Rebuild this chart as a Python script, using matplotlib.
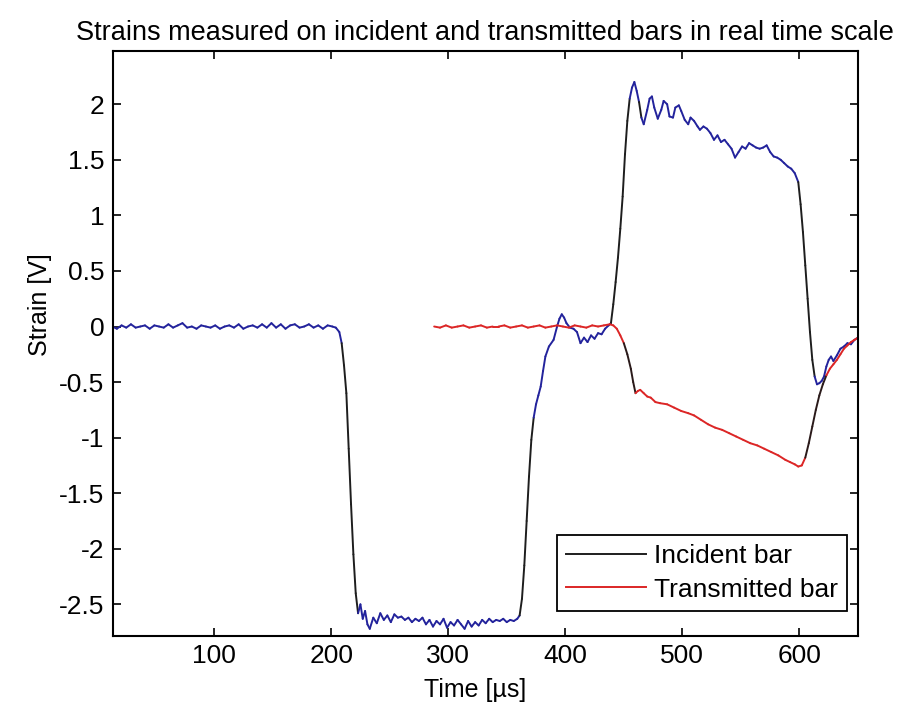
import matplotlib
matplotlib.use('Agg')
import matplotlib.pyplot as plt
from matplotlib.collections import LineCollection
from matplotlib.lines import Line2D
import numpy as np

plt.rcParams['font.family'] = ['Liberation Sans', 'DejaVu Sans']
plt.rcParams['axes.unicode_minus'] = False

# incident bar signal, time in us, strain in V
inc_t = [13, 17, 21, 25, 29, 33, 37, 41, 45, 49, 53, 57, 61, 65, 69, 73, 77, 81, 85, 89,
         93, 97, 101, 105, 109, 113, 117, 121, 125, 129, 133, 137, 141, 145, 149, 153, 157,
         161, 165, 169, 173, 177, 181, 185, 189, 193, 197, 201, 204,
         207, 209, 211, 213, 215, 217, 219, 221, 223,
         225, 227, 229, 231, 233, 236, 239, 242, 245, 248, 251, 254, 257, 260, 263, 266,
         269, 272, 275, 278, 281, 284, 287, 290, 293, 296, 299, 302, 305, 308, 311, 314,
         317, 320, 323, 326, 329, 332, 335, 338, 341, 344, 347, 350, 353, 356, 359,
         361, 363, 365, 367, 369, 371, 373, 375, 377, 379, 381, 383, 386, 390, 393, 395,
         397, 399, 401, 404, 407, 410, 413, 416, 419, 422, 425, 428, 431, 434, 437, 439,
         441, 443, 445, 447, 449, 451, 453, 455, 457, 459, 461,
         463, 465, 467, 470, 472, 474, 476, 479, 482, 484, 487, 489, 492, 494, 497, 499,
         502, 505, 507, 510, 513, 515, 518, 521, 524, 527, 530, 533, 536, 539, 542, 545,
         548, 551, 554, 557, 560, 563, 566, 569, 572, 575, 578, 581, 584, 587, 590, 593,
         596, 599,
         601, 603, 605, 607, 609, 611, 613, 615, 617, 619, 621, 623, 625, 627, 629, 632,
         635, 638, 641, 644, 647, 650]
inc_v = [0.00, -0.02, 0.01, -0.01, 0.02, -0.01, 0.00, 0.01, -0.02, 0.01, 0.00, -0.01, 0.02,
         -0.01, 0.01, 0.03, -0.01, 0.00, -0.02, 0.01, 0.00, -0.01, 0.01, -0.02, 0.00, 0.01,
         -0.01, 0.02, -0.02, 0.00, 0.01, -0.01, 0.02, -0.01, 0.03, -0.01, 0.02, -0.02, 0.01,
         0.02, -0.01, 0.00, 0.02, -0.01, 0.01, -0.02, 0.01, 0.00, -0.01,
         -0.05, -0.15, -0.35, -0.6, -1.1, -1.6, -2.05, -2.4, -2.58,
         -2.50, -2.63, -2.56, -2.68, -2.72, -2.62, -2.67, -2.58, -2.64, -2.60, -2.66, -2.59,
         -2.62, -2.61, -2.64, -2.62, -2.66, -2.63, -2.65, -2.62, -2.68, -2.64, -2.70, -2.65,
         -2.68, -2.63, -2.71, -2.66, -2.69, -2.64, -2.68, -2.72, -2.65, -2.70, -2.66, -2.69,
         -2.64, -2.67, -2.63, -2.66, -2.64, -2.65, -2.63, -2.66, -2.64, -2.65, -2.63,
         -2.6, -2.45, -2.15, -1.75, -1.35, -1.02, -0.82, -0.70, -0.62, -0.54, -0.40, -0.27,
         -0.18, -0.12, 0.0, 0.07, 0.11, 0.08, 0.03, -0.01, -0.02, -0.05, -0.15, -0.10, -0.14,
         -0.08, -0.11, -0.06, -0.07, -0.02, 0.01, 0.03,
         0.2, 0.4, 0.62, 0.88, 1.17, 1.55, 1.85, 2.05, 2.15, 2.2, 2.12,
         2.02, 1.88, 1.82, 1.95, 2.05, 2.07, 1.97, 1.87, 1.95, 2.03, 2.0, 1.89, 1.88, 1.97,
         1.99, 1.94, 1.86, 1.82, 1.88, 1.85, 1.80, 1.77, 1.80, 1.78, 1.74, 1.68, 1.72, 1.66,
         1.68, 1.64, 1.6, 1.52, 1.57, 1.62, 1.6, 1.65, 1.63, 1.61, 1.6, 1.61, 1.63, 1.57,
         1.53, 1.52, 1.5, 1.47, 1.44, 1.42, 1.38, 1.3,
         1.1, 0.85, 0.55, 0.25, -0.05, -0.3, -0.45, -0.52, -0.51, -0.49, -0.45, -0.36, -0.3,
         -0.27, -0.31, -0.26, -0.2, -0.18, -0.15, -0.16, -0.12, -0.10]

# transmitted bar signal
tra_t = [288, 293, 298, 303, 308, 313, 318, 323, 328, 333, 338, 343, 348, 353, 358, 363,
         368, 373, 378, 383, 388, 393, 398, 403, 408, 413, 418, 423, 428, 433, 438,
         441, 444, 447, 450, 453, 456, 458, 460, 462, 464, 467, 470, 473, 477, 481, 487,
         493, 499, 505, 510, 516, 522, 528, 534, 540, 546, 552, 558, 564, 570, 576, 582,
         588, 592, 596, 599, 602, 605, 608, 611, 614, 617, 620, 623, 626, 629, 632, 635,
         638, 641, 644, 647, 650]
tra_v = [0.0, -0.01, 0.01, -0.01, 0.0, 0.01, -0.01, 0.0, 0.01, -0.01, 0.0, 0.0, 0.01,
         -0.01, 0.0, 0.01, -0.01, 0.0, 0.01, -0.01, 0.0, 0.01, 0.0, -0.01, 0.01, 0.0, -0.01,
         0.01, 0.0, 0.01, 0.02,
         0.01, -0.02, -0.08, -0.15, -0.25, -0.38, -0.5, -0.6, -0.58, -0.57, -0.6, -0.63,
         -0.64, -0.68, -0.69, -0.7, -0.73, -0.76, -0.78, -0.8, -0.84, -0.88, -0.91, -0.93,
         -0.96, -0.99, -1.02, -1.05, -1.07, -1.1, -1.13, -1.16, -1.2, -1.22, -1.24, -1.26,
         -1.25, -1.18, -1.05, -0.9, -0.75, -0.62, -0.52, -0.44, -0.38, -0.34, -0.3, -0.25,
         -0.2, -0.17, -0.14, -0.12, -0.10]

yticks = [-2.5, -2, -1.5, -1, -0.5, 0, 0.5, 1, 1.5, 2]
xticks = [100, 200, 300, 400, 500, 600]


def draw_signal(ax, t, v, flat_color, steep_color, thresh):
    # steep parts of the pulse show up dark, the noisy flat parts keep their colour
    t = np.asarray(t, float)
    v = np.asarray(v, float)
    pts = np.column_stack([t, v])
    segs = np.stack([pts[:-1], pts[1:]], axis=1)
    slope = np.abs(np.diff(v) / np.diff(t))
    cols = [steep_color if s > thresh else flat_color for s in slope]
    lc = LineCollection(segs, colors=cols, linewidths=1.4, capstyle='round',
                        joinstyle='round')
    ax.add_collection(lc)


fig = plt.figure(figsize=(9, 7.07), dpi=100)
ax = fig.add_axes([0.1252, 0.1004, 0.8281, 0.8276])

draw_signal(ax, inc_t, inc_v, '#23239c', '#1e1e1e', 0.07)
draw_signal(ax, tra_t, tra_v, '#dc2626', '#2a1a1a', 0.025)

ax.set_xlim(13.4, 650)
ax.set_ylim(-2.785, 2.48)
ax.set_xticks(xticks)
ax.set_yticks(yticks)
ax.set_xticklabels([f'{x:g}' for x in xticks])
ax.set_yticklabels([f'{y:g}' for y in yticks])
ax.tick_params(direction='in', length=6, width=1.2, top=True, right=True,
               labelsize=19, pad=6)
for s in ax.spines.values():
    s.set_linewidth(1.5)

ax.set_title('Strains measured on incident and transmitted bars in real time scale',
             fontsize=19.5, pad=8)
ax.set_xlabel('Time [µs]', fontsize=18)
ax.set_ylabel('Strain [V]', fontsize=18)
ax.xaxis.set_label_coords(0.486, -0.072)
ax.yaxis.set_label_coords(-0.082, 0.566)

handles = [Line2D([], [], color='#1e1e1e', lw=1.4),
           Line2D([], [], color='#dc2626', lw=1.4)]
leg = ax.legend(handles, ['Incident bar', 'Transmitted bar'], loc='lower right',
                bbox_to_anchor=(0.985, 0.043), borderaxespad=0, fontsize=19,
                handlelength=3.0, handletextpad=0.3, labelspacing=0.35,
                fancybox=False, edgecolor='black', framealpha=1, borderpad=0.35)
leg.get_frame().set_linewidth(1.3)

fig.savefig('out.png', dpi=100)
